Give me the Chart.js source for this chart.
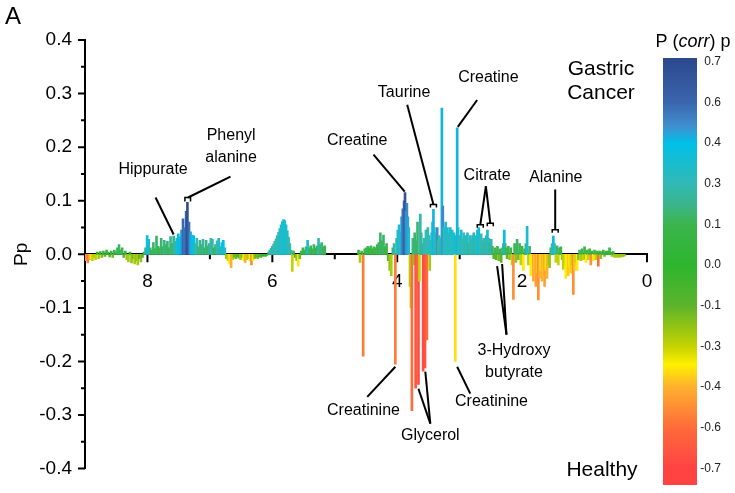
<!DOCTYPE html>
<html>
<head>
<meta charset="utf-8">
<script src="https://cdn.jsdelivr.net/npm/chart.js@4.4.0/dist/chart.umd.min.js"></script>
<style>
  html, body { margin: 0; padding: 0; background: #fff; }
  #wrap { width: 735px; height: 493px; }
</style>
</head>
<body>
<div id="wrap"><canvas id="loadings" width="735" height="493"></canvas></div>
<script>
// NMR buckets: [ppm, Pp loading, p(corr)]
const aromatic = [
  [8.98,-0.012,-0.5],[8.955,-0.016,-0.55],[8.93,-0.01,-0.45],[8.905,-0.008,-0.35],[8.88,-0.012,-0.3],
  [8.855,-0.006,-0.25],[8.83,-0.01,-0.3],[8.805,0.004,0.0],[8.78,-0.008,-0.25],[8.755,0.005,0.05],
  [8.73,-0.006,-0.15],[8.705,0.006,0.05],[8.68,-0.004,-0.1],[8.655,0.008,0.05],[8.63,0.004,0.0],
  [8.605,-0.005,-0.1],[8.58,0.006,0.05],[8.555,-0.006,-0.15],[8.53,0.008,0.1],[8.505,0.004,0.05],
  [8.48,0.012,0.1],[8.455,0.018,0.15],[8.43,0.008,0.1],[8.405,0.012,0.1],[8.38,-0.006,-0.1],
  [8.355,0.006,0.05],[8.33,-0.01,-0.2],[8.305,-0.014,-0.25],[8.28,0.004,0.0],[8.255,-0.016,-0.2],
  [8.23,-0.008,-0.15],[8.205,-0.018,-0.25],[8.18,-0.012,-0.2],[8.155,-0.02,-0.25],[8.13,-0.008,-0.1],
  [8.105,-0.014,-0.2],[8.08,-0.006,-0.1],[8.055,0.004,0.05],
  [8.03,0.012,0.2],[8.005,0.035,0.4],[7.98,0.028,0.35],[7.955,0.012,0.15],[7.93,0.008,0.1],
  [7.905,0.022,0.15],[7.88,0.01,0.1],[7.855,0.034,0.15],[7.83,0.015,0.1],[7.805,0.012,0.1],
  [7.78,0.03,0.15],[7.755,0.014,0.1],[7.73,0.026,0.2],[7.705,0.018,0.15],[7.68,0.024,0.15],
  [7.655,0.012,0.1],[7.63,0.033,0.2],[7.605,0.02,0.15],[7.58,0.034,0.2],[7.555,0.024,0.25],
  [7.53,0.03,0.35],[7.505,0.038,0.4],[7.48,0.032,0.4],[7.455,0.045,0.45],[7.43,0.066,0.6],
  [7.405,0.05,0.55],[7.38,0.08,0.62],[7.36,0.097,0.68],[7.335,0.06,0.58],[7.31,0.042,0.45],
  [7.285,0.036,0.4],[7.26,0.035,0.4],[7.235,0.02,0.25],[7.21,0.03,0.3],[7.185,0.014,0.15],
  [7.16,0.026,0.2],[7.135,0.018,0.15],[7.11,0.028,0.25],[7.085,0.012,0.1],[7.06,0.026,0.2],
  [7.035,0.016,0.15],[7.01,0.02,0.2],[6.985,0.03,0.3],[6.96,0.028,0.25],[6.935,0.012,0.1],
  [6.91,0.018,0.15],[6.885,0.025,0.3],[6.86,0.03,0.35],[6.835,0.014,0.2],[6.81,0.022,0.35],
  [6.785,0.026,0.4],[6.76,0.012,0.3]
];
const olefinic = [
  [6.735,-0.008,-0.2],[6.71,-0.012,-0.3],[6.685,-0.018,-0.35],[6.66,-0.025,-0.4],[6.635,-0.01,-0.3],
  [6.61,-0.006,-0.1],[6.585,-0.008,-0.15],[6.56,-0.005,-0.05],[6.535,-0.007,-0.1],[6.51,-0.01,-0.25],
  [6.485,-0.006,-0.15],[6.46,-0.012,-0.35],[6.435,-0.015,-0.4],[6.41,-0.01,-0.3],[6.385,-0.008,-0.25],
  [6.36,-0.012,-0.35],[6.335,-0.02,-0.5],[6.31,-0.012,-0.35],[6.285,-0.008,-0.2],[6.26,-0.006,-0.1],
  [6.235,-0.008,-0.15],[6.21,-0.005,-0.05],[6.185,-0.006,-0.1],[6.16,-0.004,0.0],[6.135,-0.003,0.0],
  [6.11,-0.004,-0.05],[6.085,-0.002,0.0],
  [6.06,0.004,0.2],[6.04,0.008,0.25],[6.02,0.011,0.28],[6.0,0.015,0.3],[5.98,0.019,0.3],
  [5.96,0.024,0.3],[5.94,0.029,0.3],[5.92,0.035,0.3],[5.9,0.041,0.3],[5.88,0.048,0.32],
  [5.86,0.055,0.33],[5.84,0.061,0.35],[5.82,0.065,0.35],[5.80,0.063,0.35],[5.78,0.055,0.35],
  [5.76,0.044,0.33],[5.74,0.032,0.3],[5.72,0.02,0.3],[5.70,0.008,0.25],
  [5.68,-0.032,-0.3],[5.66,0.006,0.1],[5.635,-0.006,-0.1],[5.61,-0.012,-0.2],[5.585,-0.022,-0.35],
  [5.56,-0.008,-0.15],[5.535,0.006,0.05],[5.51,0.012,0.1],[5.485,0.008,0.05],[5.46,0.014,0.15],
  [5.435,0.026,0.35],[5.41,0.012,0.15],[5.385,0.016,0.1],[5.36,0.01,0.05],[5.335,0.018,0.15],
  [5.31,0.012,0.1],[5.285,0.016,0.1],[5.26,0.03,0.3],[5.235,0.018,0.15],[5.21,0.022,0.2],
  [5.185,0.014,0.1],[5.16,0.016,0.1]
];
const sugar = [
  [4.62,0.008,0.1],[4.595,-0.015,-0.25],[4.57,0.006,0.05],[4.545,-0.19,-0.55],[4.52,0.01,0.1],
  [4.495,0.012,0.1],[4.47,0.015,0.1],[4.445,0.012,0.05],[4.42,0.016,0.1],[4.395,0.01,0.05],
  [4.37,0.014,0.1],[4.345,0.012,0.1],[4.32,0.018,0.1],[4.295,0.022,0.1],[4.27,0.04,0.15],
  [4.245,0.025,0.1],[4.22,0.036,0.15],[4.195,0.014,0.1],[4.17,0.02,0.1],[4.145,-0.012,-0.1],
  [4.12,-0.03,-0.2],[4.095,-0.04,-0.25],[4.07,0.012,0.15],[4.05,0.02,0.25],[4.03,-0.205,-0.55],
  [4.01,0.03,0.3],[3.99,0.045,0.35],[3.97,0.055,0.35],[3.95,0.04,0.3],[3.93,0.07,0.45],
  [3.91,0.085,0.55],[3.89,0.1,0.6],[3.875,0.115,0.66],[3.86,0.08,0.45],[3.845,0.095,0.5],
  [3.83,0.07,0.45],[3.815,0.05,0.35]
];
const mixed = [
  [3.795,-0.06,-0.25],[3.78,-0.1,-0.3],[3.765,-0.292,-0.6],[3.75,0.03,0.2],[3.735,-0.02,-0.2],
  [3.72,0.04,0.15],[3.705,-0.25,-0.65],[3.69,0.025,0.15],[3.675,0.06,0.15],[3.66,-0.243,-0.68],
  [3.645,-0.05,-0.3],[3.63,0.075,0.3],[3.615,0.04,0.25],[3.60,0.02,0.2],[3.585,-0.218,-0.68],
  [3.57,0.03,0.3],[3.555,-0.212,-0.66],[3.54,0.045,0.3],[3.525,-0.16,-0.6],[3.51,0.05,0.3],
  [3.495,0.035,0.3],[3.48,-0.03,-0.25],[3.465,0.025,0.3],[3.45,0.04,0.35],[3.435,0.06,0.35],
  [3.42,0.084,0.42],[3.405,0.05,0.35],[3.39,0.03,0.3],[3.375,0.04,0.3],[3.36,0.05,0.5],
  [3.345,0.025,0.25],[3.33,0.035,0.3],[3.315,0.02,0.2],[3.30,0.03,0.3],[3.285,0.273,0.42],
  [3.27,0.09,0.5],[3.255,0.05,0.3],[3.24,0.03,0.3],[3.225,0.06,0.35],[3.21,0.04,0.3],
  [3.195,0.05,0.35],[3.18,0.035,0.3],[3.165,0.04,0.3],[3.15,0.05,0.35],[3.135,0.03,0.3],
  [3.12,0.045,0.35],[3.105,0.025,0.3],[3.09,0.04,0.35],[3.07,-0.2,-0.36],[3.055,0.035,0.35],
  [3.04,0.236,0.42],[3.025,0.05,0.35],[3.01,0.03,0.3]
];
const citrate = [
  [2.995,0.035,0.3],[2.975,0.045,0.35],[2.955,0.03,0.3],[2.935,0.04,0.3],[2.915,0.025,0.25],
  [2.895,0.035,0.3],[2.875,0.04,0.35],[2.855,0.02,0.2],[2.835,0.035,0.3],[2.815,0.028,0.25],
  [2.795,0.035,0.3],[2.775,0.04,0.35],[2.755,0.025,0.25],[2.735,0.035,0.3],[2.715,0.045,0.35],
  [2.695,0.05,0.38],[2.675,0.035,0.3],[2.655,0.038,0.3],[2.635,0.025,0.25],[2.615,0.03,0.3],
  [2.595,0.02,0.2],[2.575,0.035,0.3],[2.555,0.045,0.35],[2.535,0.03,0.3],[2.515,0.02,0.2],
  [2.495,0.028,0.25],[2.475,0.015,0.15],[2.455,-0.008,-0.1],[2.435,0.012,0.1],[2.415,-0.01,-0.1],
  [2.395,0.015,0.1],[2.375,-0.012,-0.15],[2.355,0.01,0.1],[2.335,-0.015,-0.1],[2.315,0.012,0.1],
  [2.30,0.02,0.2],[2.285,0.045,0.4],[2.27,0.02,0.2],[2.255,0.012,0.1],[2.24,-0.008,-0.1],
  [2.22,0.015,0.1]
];
const aliphatic = [
  [2.20,-0.01,-0.2],[2.18,0.012,0.1],[2.16,-0.02,-0.3],[2.14,-0.084,-0.5],[2.12,0.02,0.1],
  [2.10,-0.015,-0.2],[2.08,0.028,0.15],[2.06,-0.01,-0.15],[2.04,0.02,0.1],[2.02,-0.02,-0.3],
  [2.00,0.015,0.1],[1.98,-0.03,-0.35],[1.96,0.01,0.1],[1.94,0.02,0.2],[1.92,0.052,0.35],
  [1.90,-0.02,-0.3],[1.88,0.015,0.15],[1.86,-0.04,-0.35],[1.84,-0.025,-0.35],[1.82,-0.05,-0.42],
  [1.80,-0.03,-0.38],[1.78,-0.06,-0.45],[1.76,-0.035,-0.38],[1.74,-0.085,-0.5],[1.72,-0.045,-0.4],
  [1.70,-0.03,-0.35],[1.68,-0.05,-0.4],[1.66,-0.04,-0.38],[1.64,-0.06,-0.45],[1.62,-0.03,-0.35],
  [1.60,-0.045,-0.4],[1.58,-0.02,-0.3],[1.56,-0.025,-0.2],[1.54,0.012,0.1],[1.52,0.02,0.3],
  [1.50,0.034,0.38],[1.48,0.02,0.3],[1.46,-0.015,-0.3],[1.44,0.016,0.15],[1.42,-0.02,-0.3],
  [1.40,0.012,0.1],[1.38,0.014,0.1],[1.36,-0.01,-0.2],[1.34,-0.028,-0.3],[1.32,-0.02,-0.3],
  [1.30,-0.045,-0.35],[1.28,-0.03,-0.35],[1.26,-0.04,-0.38],[1.24,-0.025,-0.35],[1.22,-0.035,-0.38],
  [1.20,-0.02,-0.3],[1.18,-0.075,-0.5],[1.16,-0.03,-0.38],[1.14,-0.015,-0.3],[1.12,-0.03,-0.35],
  [1.10,-0.01,-0.2],[1.08,0.008,0.1],[1.06,-0.012,-0.25],[1.04,0.01,0.1],[1.02,-0.01,-0.3],
  [1.00,0.014,0.1],[0.98,-0.015,-0.35],[0.96,0.008,0.1],[0.94,-0.01,-0.3],[0.92,0.01,0.05],
  [0.90,-0.02,-0.5],[0.88,0.006,0.05],[0.86,-0.012,-0.35],[0.84,0.008,0.1],[0.82,-0.01,-0.3],
  [0.80,0.006,0.05],[0.78,-0.022,-0.6],[0.76,0.006,0.05],[0.74,-0.008,-0.2],[0.72,0.005,0.05],
  [0.70,0.008,0.1],[0.68,-0.004,-0.15],[0.66,0.006,0.05],[0.64,0.004,0.0],[0.62,0.006,0.05],
  [0.60,0.012,0.1],[0.58,0.004,0.0],[0.56,-0.004,-0.2],[0.54,0.005,0.0],[0.52,-0.006,-0.25],
  [0.50,-0.004,-0.2],[0.48,-0.006,-0.25],[0.46,-0.004,-0.2],[0.44,-0.006,-0.25],[0.42,-0.004,-0.2],
  [0.40,-0.005,-0.25],[0.38,-0.004,-0.2],[0.36,-0.003,-0.2]
];

const xLabels = [8, 6, 4, 2, 0];
const corrTicks = [0.7, 0.6, 0.4, 0.3, 0.1, 0.0, -0.1, -0.3, -0.4, -0.6, -0.7];

// metabolite labels: text lines, anchor (ppm, Pp) and pointer segments
const notes = [
  { text: ['Hippurate'], at: [7.91, 0.158] },
  { text: ['Phenyl', 'alanine'], at: [6.66, 0.222] },
  { text: ['Creatine'], at: [4.64, 0.212] },
  { text: ['Taurine'], at: [3.89, 0.301] },
  { text: ['Creatine'], at: [2.54, 0.329] },
  { text: ['Citrate'], at: [2.56, 0.147] },
  { text: ['Alanine'], at: [1.46, 0.143] },
  { text: ['3-Hydroxy', 'butyrate'], at: [2.13, -0.18] },
  { text: ['Creatinine'], at: [4.54, -0.292] },
  { text: ['Glycerol'], at: [3.47, -0.339] },
  { text: ['Creatinine'], at: [2.49, -0.275] }
];
const pointers = [
  [7.87, 0.106, 7.58, 0.037, false],
  [6.67, 0.145, 7.35, 0.106, false],
  [4.38, 0.186, 3.88, 0.117, false],
  [3.84, 0.279, 3.42, 0.093, true],
  [2.72, 0.288, 3.03, 0.238, false],
  [2.58, 0.127, 2.67, 0.055, true],
  [2.58, 0.127, 2.51, 0.058, true],
  [1.47, 0.121, 1.47, 0.046, true],
  [2.25, -0.15, 2.40, -0.022, false],
  [2.25, -0.15, 2.32, -0.018, false],
  [4.48, -0.266, 4.03, -0.21, false],
  [3.47, -0.316, 3.66, -0.251, false],
  [3.47, -0.316, 3.55, -0.219, false],
  [2.83, -0.26, 3.04, -0.21, false]
];
const bracket = [7.40, 7.31, 0.106];

// colour scale: stops given at fractional positions along corrTicks
const colorStops = [
  [0, '#2d4a8e'], [1, '#3a66ad'], [1.6, '#3f90d0'], [2, '#00c0e8'], [3, '#31b9b5'],
  [3.5, '#39b58c'], [4, '#3bb54c'], [5, '#2db52e'], [6, '#5cb42c'], [7, '#c4d300'],
  [7.45, '#fff000'], [8, '#ffb02e'], [9, '#ff6b3a'], [10, '#ff4343']
];

function hexRgb(h) {
  return [parseInt(h.slice(1, 3), 16), parseInt(h.slice(3, 5), 16), parseInt(h.slice(5, 7), 16)];
}
function corrPos(c) {
  if (c >= corrTicks[0]) return 0;
  for (let i = 0; i < corrTicks.length - 1; i++) {
    const a = corrTicks[i], b = corrTicks[i + 1];
    if (c <= a && c >= b) return i + (a - c) / (a - b);
  }
  return corrTicks.length - 1;
}
function posColor(p) {
  for (let i = 0; i < colorStops.length - 1; i++) {
    const [p0, c0] = colorStops[i], [p1, c1] = colorStops[i + 1];
    if (p >= p0 && p <= p1) {
      const f = (p - p0) / (p1 - p0), A = hexRgb(c0), B = hexRgb(c1);
      return `rgb(${A.map((v, k) => Math.round(v + (B[k] - v) * f)).join(',')})`;
    }
  }
  return colorStops[colorStops.length - 1][1];
}

const spectrum = [].concat(aromatic, olefinic, sugar, mixed, citrate, aliphatic);
const FONT = 'Liberation Sans, Arial, sans-serif';
Chart.defaults.font.family = FONT;
Chart.defaults.color = '#000';

const tickMarks = {
  id: 'tickMarks',
  beforeDatasetsDraw(chart) {
    const { ctx, chartArea, scales: { x, y } } = chart;
    const y0 = y.getPixelForValue(0);
    ctx.save();
    ctx.strokeStyle = '#000';
    ctx.lineWidth = 2;
    ctx.beginPath();
    x.ticks.forEach(t => {
      if (t.value === 9) return;
      const px = x.getPixelForValue(t.value);
      const len = xLabels.includes(t.value) ? 8 : 5;
      ctx.moveTo(px, y0); ctx.lineTo(px, y0 + len);
    });
    y.ticks.forEach(t => {
      const py = y.getPixelForValue(t.value);
      const major = Math.abs(Math.round(t.value * 10) - t.value * 10) < 1e-6;
      ctx.moveTo(chartArea.left, py); ctx.lineTo(chartArea.left - (major ? 7 : 4), py);
    });
    ctx.stroke();
    ctx.restore();
  }
};

const annotations = {
  id: 'annotations',
  afterDatasetsDraw(chart) {
    const { ctx, scales: { x, y } } = chart;
    ctx.save();
    ctx.strokeStyle = '#000';
    ctx.lineWidth = 2;
    pointers.forEach(([a, b, c, d, cap]) => {
      const x1 = x.getPixelForValue(a), y1 = y.getPixelForValue(b);
      const x2 = x.getPixelForValue(c), y2 = y.getPixelForValue(d);
      ctx.beginPath(); ctx.moveTo(x1, y1); ctx.lineTo(x2, y2); ctx.stroke();
      if (cap) {
        ctx.lineWidth = 1.5;
        ctx.beginPath();
        ctx.moveTo(x2 - 3, y2 + 3); ctx.lineTo(x2 - 3, y2); ctx.lineTo(x2 + 3, y2); ctx.lineTo(x2 + 3, y2 + 3);
        ctx.stroke();
        ctx.lineWidth = 2;
      }
    });
    // bracket over the phenylalanine doublet
    const bx1 = x.getPixelForValue(bracket[0]), bx2 = x.getPixelForValue(bracket[1]), by = y.getPixelForValue(bracket[2]);
    ctx.lineWidth = 1.5;
    ctx.beginPath();
    ctx.moveTo(bx1, by + 4); ctx.lineTo(bx1, by); ctx.lineTo(bx2, by); ctx.lineTo(bx2, by + 4);
    ctx.stroke();

    ctx.fillStyle = '#000';
    ctx.font = '16px ' + FONT;
    ctx.textAlign = 'center';
    ctx.textBaseline = 'middle';
    notes.forEach(n => {
      const px = x.getPixelForValue(n.at[0]), py = y.getPixelForValue(n.at[1]);
      n.text.forEach((t, i) => ctx.fillText(t, px, py + i * 22));
    });
    ctx.restore();
  }
};

const extras = {
  id: 'extras',
  afterDraw(chart) {
    const { ctx } = chart;
    ctx.save();
    ctx.fillStyle = '#000';
    ctx.textBaseline = 'middle';
    ctx.textAlign = 'left';
    ctx.font = '24px ' + FONT;
    ctx.fillText('A', 5, 17);
    ctx.textAlign = 'center';
    ctx.font = '21px ' + FONT;
    ctx.fillText('Gastric', 601, 69);
    ctx.fillText('Cancer', 601, 93);
    ctx.fillText('Healthy', 602, 470);

    // colour bar
    const bx = 663, bw = 34, top = 58, bottom = 485, first = 61.7, step = 40.66;
    const grad = ctx.createLinearGradient(0, top, 0, bottom);
    colorStops.forEach(([p, c]) => {
      const f = Math.min(1, Math.max(0, (first + p * step - top) / (bottom - top)));
      grad.addColorStop(f, c);
    });
    grad.addColorStop(0, colorStops[0][1]);
    grad.addColorStop(1, colorStops[colorStops.length - 1][1]);
    ctx.fillStyle = grad;
    ctx.fillRect(bx, top, bw, bottom - top);

    ctx.fillStyle = '#222';
    ctx.font = '12px ' + FONT;
    ctx.textAlign = 'right';
    corrTicks.forEach((v, i) => ctx.fillText(v.toFixed(1), 721, first + i * step));

    // title "P (corr) p" with italic corr
    ctx.fillStyle = '#000';
    ctx.textAlign = 'left';
    const parts = [['P (', '18px ' + FONT], ['corr', 'italic 18px ' + FONT], [') p', '18px ' + FONT]];
    let w = 0;
    parts.forEach(([t, f]) => { ctx.font = f; w += ctx.measureText(t).width; });
    let cx = 693 - w / 2;
    parts.forEach(([t, f]) => { ctx.font = f; ctx.fillText(t, cx, 42); cx += ctx.measureText(t).width; });
    ctx.restore();
  }
};

new Chart(document.getElementById('loadings'), {
  type: 'bar',
  data: {
    datasets: [{
      data: spectrum.map(r => ({ x: r[0], y: r[1] })),
      backgroundColor: spectrum.map(r => posColor(corrPos(r[2]))),
      borderWidth: 0,
      barThickness: 2
    }]
  },
  options: {
    responsive: false,
    animation: false,
    layout: { padding: { left: 0, right: 88, top: 40, bottom: 23 } },
    plugins: { legend: { display: false }, tooltip: { enabled: false } },
    scales: {
      x: {
        type: 'linear', min: 0, max: 9, reverse: true, offset: false, position: { y: 0 },
        grid: { display: false, drawTicks: false, offset: false },
        border: { display: true, color: '#000', width: 2 },
        ticks: {
          stepSize: 1, autoSkip: false, maxRotation: 0, padding: 16, color: '#000',
          font: { size: 19 },
          callback: v => xLabels.includes(v) ? String(v) : ''
        }
      },
      y: {
        min: -0.4, max: 0.4,
        grid: { display: false, drawTicks: false },
        border: { display: true, color: '#000', width: 2 },
        ticks: {
          stepSize: 0.05, autoSkip: false, padding: 13, color: '#000', font: { size: 19 },
          callback: v => Math.abs(Math.round(v * 10) - v * 10) < 1e-6 ? (Math.round(v * 10) / 10).toFixed(1) : ''
        },
        title: { display: true, text: 'Pp', color: '#000', font: { size: 19 }, padding: { top: 10, bottom: 0 } },
        afterFit: s => { s.width = 85; }
      }
    }
  },
  plugins: [tickMarks, annotations, extras]
});
</script>
</body>
</html>
